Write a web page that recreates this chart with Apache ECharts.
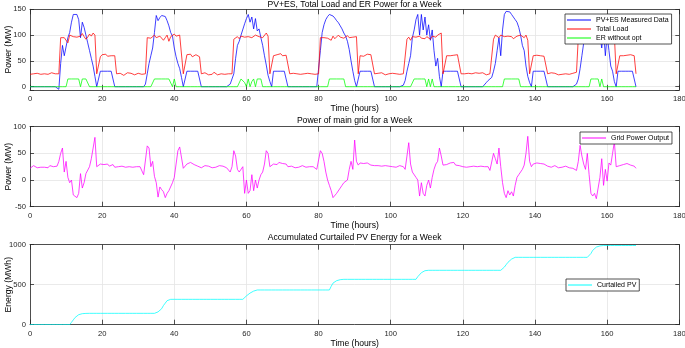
<!DOCTYPE html>
<html>
<head>
<meta charset="utf-8">
<script src="https://cdn.jsdelivr.net/npm/echarts@6/dist/echarts.min.js"></script>
<style>
html, body { margin: 0; padding: 0; background: #fff; }
#chart { width: 685px; height: 348px; }
</style>
</head>
<body>
<div id="chart"></div>
<script>
// half-hour samples, 0 .. 168 h

var pvEs = [
  0,0,0,0,0,0,0,0, 0,0,0,0,0,0,0,0, -5,45,80,60,60,95,105,125, 140,141,140,130,95,125,115,100, 85,70,55,40,20,0,0,30, 30,30,30,30,30,30,30,0,
  0,0,0,0,0,0,0,0, 0,0,0,0,0,0,0,0, 5,25,45,60,75,105,138,128, 134,138,141,136,128,118,105,98, 75,58,45,35,18,0,0,30, 30,30,30,30,30,30,30,0,
  0,0,0,0,0,0,0,0, 0,0,0,0,0,0,0,5, 2,25,55,80,88,100,98,122, 132,140,125,135,112,132,108,112, 95,80,60,42,22,10,0,30, 30,30,30,30,30,30,30,0,
  0,0,0,0,0,0,0,0, 0,0,0,0,0,0,0,0, 0,70,105,120,130,136,140,139, 137,133,128,124,118,112,104,98, 88,72,50,30,12,0,0,30, 30,30,30,30,30,30,30,0,
  0,0,0,0,0,0,0,0, 0,0,0,0,0,0,0,3, 12,30,45,60,95,110,130,140, 100,140,110,135,100,120,90,110, 70,40,55,20,0,30,30,30, 30,30,30,30,30,30,30,0,
  0,0,0,0,0,0,0,0, 0,0,0,0,2,8,12,10, 18,30,45,70,95,60,110,140, 146,144,145,140,135,130,125,115, 100,80,70,40,20,8,0,30, 30,30,30,30,30,30,30,0,
  0,0,0,0,0,0,0,0, 0,0,0,0,0,0,0,5, 15,35,60,85,100,115,130,140, 125,140,130,120,100,75,110,60, 100,70,40,30,10,0,30,30, 30,30,30,30,30,30,30,30,
  0
];

var totalLoad = [
  24,26,25,23,26,25,24,27, 25,26,24,25,27,26,25,24, 25,95,97,95,98,85,100,103, 97,95,96,94,98,103,97,92, 96,102,98,104,100,25,24,58, 62,60,63,59,62,60,61,60,
  25,23,26,24,22,25,27,24, 26,25,23,24,26,25,24,27, 25,95,96,94,97,100,95,93, 98,96,90,95,100,88,97,100, 102,98,96,100,99,25,27,62, 60,63,58,61,62,59,58,25,
  24,27,25,23,26,24,28,25, 23,26,25,27,24,26,25,23, 25,92,95,97,93,98,100,96, 94,97,99,95,96,100,98,97, 99,95,97,104,98,25,28,60, 63,62,60,64,60,62,61,60,
  25,24,26,23,25,27,24,26, 25,23,26,24,25,27,24,25, 25,95,93,95,97,94,96,90, 98,93,95,100,96,98,94,97, 99,95,97,96,98,97,25,60, 62,59,61,63,60,62,60,25,
  24,26,25,27,24,23,26,25, 24,26,23,25,27,24,26,25, 25,92,96,90,97,100,96,95, 98,94,96,93,97,95,92,98, 100,96,100,98,104,25,26,60, 62,60,63,61,60,62,60,25,
  27,25,24,26,28,25,24,27, 25,26,24,27,25,23,26,25, 25,92,100,103,95,100,98,97, 100,98,95,97,93,95,98,100, 100,97,95,100,90,25,27,60, 62,61,63,60,62,59,61,25,
  25,27,24,26,25,23,26,24, 26,25,27,24,25,26,24,28, 95,97,94,98,96,100,95,97, 99,95,97,100,96,94,98,95, 97,100,96,98,99,25,27,60, 62,60,63,61,59,62,60,60,
  25
];

var erNoOpt = [
  0,0,0,0,0,0,0,0, 0,0,0,0,0,0,0,0, 0,0,0,0,0,15,15,15, 15,15,15,15,0,15,15,15, 15,0,0,0,0,0,0,0, 0,0,0,0,0,0,0,0,
  0,0,0,0,0,0,0,0, 0,0,0,0,0,0,0,0, 0,0,0,0,0,15,15,15, 15,15,15,15,15,15,15,0, 15,0,0,0,0,0,0,0, 0,0,0,0,0,0,0,0,
  0,0,0,0,0,0,0,0, 0,0,0,0,0,0,0,0, 0,0,0,0,0,15,15,8, 0,15,0,10,15,0,15,15, 15,0,0,0,0,0,0,0, 0,0,0,0,0,0,0,0,
  0,0,0,0,0,0,0,0, 0,0,0,0,0,0,0,0, 0,0,0,0,0,0,15,15, 15,15,15,15,15,15,15,0, 0,0,0,0,0,0,0,0, 0,0,0,0,0,0,0,0,
  0,0,0,0,0,0,0,0, 0,0,0,0,0,0,0,0, 0,0,0,0,0,15,15,15, 15,15,15,15,0,15,0,15, 0,0,0,0,0,0,0,0, 0,0,0,0,0,0,0,0,
  0,0,0,0,0,0,0,0, 0,0,0,0,0,0,0,0, 0,0,0,0,0,0,0,15, 15,15,15,15,15,15,15,15, 0,0,0,0,0,0,0,0, 0,0,0,0,0,0,0,0,
  0,0,0,0,0,0,0,0, 0,0,0,0,0,0,0,0, 0,0,0,0,0,0,0,15, 15,15,15,15,0,15,0,0, 0,0,0,0,0,0,0,0, 0,0,0,0,0,0,0,0,
  0
];

var gridPower = [
  22,25,27,24,23,25,24,26, 24,25,23,27,26,25,24,26, 35,50,60,15,35,5,-5,0, -28,-30,-33,-25,12,-15,-5,12, 13,25,40,60,80,25,27,30, 32,29,31,30,26,28,29,24,
  24,25,23,26,25,24,22,25, 26,24,23,25,24,25,26,10, 10,64,60,25,35,7,-5,-32, -13,-18,-22,-33,-25,-20,-18,-5, 5,30,55,62,65,22,25,30, 28,33,30,29,30,26,28,23,
  25,27,24,26,25,23,26,24, 25,27,24,26,25,23,25,15, 25,55,45,20,15,18,25,-25, 0,-25,-20,10,-20,0,-15,0, 10,15,30,55,50,25,28,30, 32,29,33,30,31,28,30,25,
  24,26,25,23,26,24,25,27, 25,24,26,25,23,25,24,20, 22,55,50,35,15,0,-10,-20, -33,-30,-25,-22,-15,-10,-5,-2, 0,20,35,20,75,35,28,32, 30,31,29,32,30,28,31,27,
  25,27,24,26,25,27,24,26, 27,25,26,24,25,27,26,25, 20,45,70,30,15,12,5,0, -30,-5,-25,-30,-10,0,-15,5, 20,30,35,60,45,28,30,29, 31,32,30,33,28,30,27,24,
  25,27,24,26,25,28,26,24, 25,27,26,24,25,27,25,18, 15,50,40,30,60,25,-5,-25, -33,-20,-28,-22,-30,-10,5,10, 12,20,28,50,82,35,25,30, 28,32,30,31,29,30,28,26,
  25,24,26,27,25,23,26,24, 25,26,24,23,24,22,20,18, 35,65,45,30,20,50,10,-25, -30,-25,-35,-15,5,40,-10,20, -2,32,28,50,72,25,24,27, 26,29,28,31,30,28,29,26,
  22
];

var curtailedPv = [
  0,0,0,0,0,0,0,0, 0,0,0,0,0,0,0,0, 0,0,0,0,0,0,0,30, 60,90,115,125,132,138,140,141, 142,142,142,142,142,142,142,142, 142,142,142,142,142,142,142,142,
  142,142,142,142,142,142,142,142, 142,142,142,142,142,142,142,142, 142,142,142,142,142,142,142,160, 180,200,240,270,300,312,317,317, 317,317,317,317,317,317,317,317, 317,317,317,317,317,317,317,317,
  317,317,317,317,317,317,317,317, 317,317,317,317,317,317,317,317, 317,317,317,317,317,317,317,340, 360,380,395,410,420,428,434,434, 434,434,434,434,434,434,434,434, 434,434,434,434,434,434,434,434,
  434,434,434,434,434,434,434,434, 434,434,434,434,434,434,434,434, 434,434,434,434,434,434,434,480, 520,540,550,558,563,567,567,567, 567,567,567,567,567,567,567,567, 567,567,567,567,567,567,567,567,
  567,567,567,567,567,567,567,567, 567,567,567,567,567,567,567,567, 567,567,567,567,567,567,567,600, 625,650,665,675,680,680,680,680, 680,680,680,680,680,680,680,680, 680,680,680,680,680,680,680,680,
  680,680,680,680,680,680,680,680, 680,680,680,680,680,680,680,680, 680,680,680,680,680,680,680,720, 750,780,800,820,835,842,842,842, 842,842,842,842,842,842,842,842, 842,842,842,842,842,842,842,842,
  842,842,842,842,842,842,842,842, 842,842,842,842,842,842,842,842, 842,842,842,842,842,842,842,890, 930,955,970,980,985,988,990,990, 990,990,990,990,990,990,990,990, 990,990,990,990,990,990,990,990,
  990
];

var titles = [
  'PV+ES, Total Load and ER Power for a Week',
  'Power of main grid for a Week',
  'Accumulated Curtailed PV Energy for a Week'
];
var yNames = ['Power (MW)', 'Power (MW)', 'Energy (MWh)'];
var xName = 'Time (hours)';

var hours = [];
for (var i = 0; i < pvEs.length; i++) hours.push(i * 0.5);
function pairs(vals) {
  return vals.map(function (v, i) { return [hours[i], v]; });
}

var font = '"Liberation Sans", Arial, Helvetica, sans-serif';
var axisColor = '#262626';
var gridColor = '#e4e4e4';

var panels = [
  { top: 9.3, height: 80.5, yMin: -6, yMax: 150, split: 3, titleTop: 0 },
  { top: 126.7, height: 80, yMin: -50, yMax: 100, split: 3, titleTop: 116 },
  { top: 244.7, height: 80, yMin: 0, yMax: 1000, split: 2, titleTop: 233.5 }
];

var grids = [], xAxes = [], yAxes = [], titleList = [];
panels.forEach(function (p, g) {
  grids.push({ left: 30, right: 5.7, top: p.top, height: p.height, outerBoundsMode: 'none' });
  titleList.push({
    text: titles[g], left: 354.6, top: p.titleTop, textAlign: 'center', padding: 0,
    textStyle: { fontSize: 8.6, fontWeight: 'normal', color: '#000', fontFamily: font }
  });
  ['bottom', 'top'].forEach(function (pos) {
    var main = pos === 'bottom';
    xAxes.push({
      type: 'value', gridIndex: g, position: pos, min: 0, max: 180, interval: 20,
      axisLine: { show: true, onZero: false, lineStyle: { color: axisColor, width: 0.8 } },
      axisTick: { show: true, inside: true, length: 5, lineStyle: { color: axisColor, width: 0.8 } },
      axisLabel: { show: main, color: axisColor, fontSize: 7.6, fontFamily: font, margin: 5 },
      splitLine: { show: main, lineStyle: { color: gridColor, width: 0.8 } },
      name: main ? xName : '', nameLocation: 'middle', nameGap: 14, nameMoveOverlap: false,
      nameTextStyle: { color: '#000', fontSize: 8.6, fontFamily: font }
    });
  });
  ['left', 'right'].forEach(function (pos) {
    var main = pos === 'left';
    yAxes.push({
      type: 'value', gridIndex: g, position: pos, min: p.yMin, max: p.yMax, splitNumber: p.split,
      axisLine: { show: true, onZero: false, lineStyle: { color: axisColor, width: 0.8 } },
      axisTick: { show: true, inside: true, length: 4, lineStyle: { color: axisColor, width: 0.8 } },
      axisLabel: {
        show: main, color: axisColor, fontSize: 7.6, fontFamily: font, margin: 4,
        formatter: function (v) { return v === p.yMin && v % 50 !== 0 ? '' : String(v); }
      },
      splitLine: { show: main, lineStyle: { color: gridColor, width: 0.8 } },
      name: main ? yNames[g] : '', nameLocation: 'middle', nameGap: 17, nameMoveOverlap: false,
      nameTextStyle: { color: '#000', fontSize: 8.6, fontFamily: font }
    });
  });
});

function lineSeries(name, vals, color, g) {
  return {
    name: name, type: 'line', xAxisIndex: g * 2, yAxisIndex: g * 2,
    data: pairs(vals), symbol: 'none', showSymbol: false,
    lineStyle: { color: color, width: 0.75 }, itemStyle: { color: color }
  };
}

var legendBase = {
  orient: 'vertical', selectedMode: false, backgroundColor: '#fff',
  borderColor: axisColor, borderWidth: 0.8, padding: [2, 3, 2, 2],
  itemGap: 1, itemWidth: 24, itemHeight: 1, icon: 'rect',
  textStyle: { fontSize: 7, color: '#000', fontFamily: font, lineHeight: 8 }
};
function legendAt(names, left, top) {
  return Object.assign({}, legendBase, { data: names, left: left, top: top });
}

var chart = echarts.init(document.getElementById('chart'));
chart.setOption({
  animation: false,
  backgroundColor: '#fff',
  title: titleList,
  grid: grids,
  xAxis: xAxes,
  yAxis: yAxes,
  legend: [
    legendAt(['PV+ES Measured Data', 'Total Load', 'ER without opt'], 565, 14),
    legendAt(['Grid Power Output'], 580, 132),
    legendAt(['Curtailed PV'], 566, 279)
  ],
  series: [
    lineSeries('PV+ES Measured Data', pvEs, '#0000ff', 0),
    lineSeries('Total Load', totalLoad, '#ff0000', 0),
    lineSeries('ER without opt', erNoOpt, '#00ff00', 0),
    lineSeries('Grid Power Output', gridPower, '#ff00ff', 1),
    lineSeries('Curtailed PV', curtailedPv, '#00ffff', 2)
  ]
});
</script>
</body>
</html>
